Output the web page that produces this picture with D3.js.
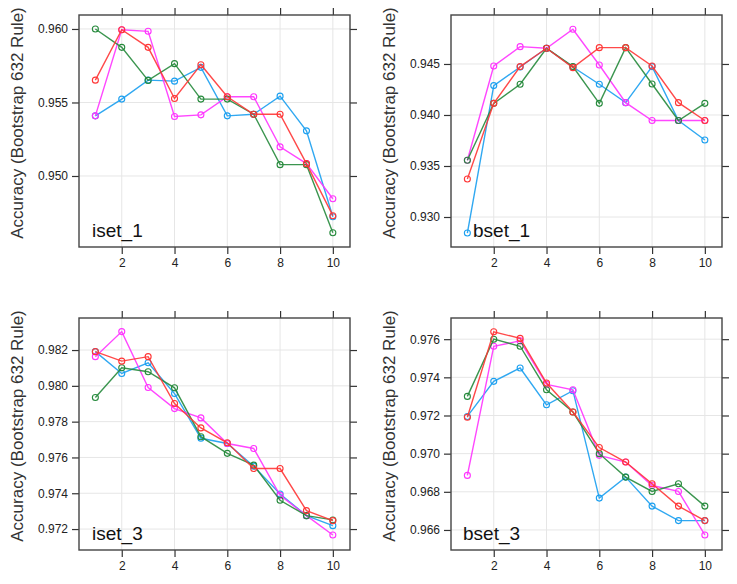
<!DOCTYPE html>
<html lang='en'>
  <head>
    <style type='text/css'>
      body {margin: 0; background-color: #fff;}
      svg text {font-family: 'Liberation Sans', Arial, sans-serif;}
    </style>
  </head>
  <body>
    <svg id='chart' width='737' height='584'></svg>
    <script src='https://d3js.org/d3.v7.min.js'></script>
    <script type='text/javascript'>
        // x values shared by every panel
        var xValues = [1, 2, 3, 4, 5, 6, 7, 8, 9, 10];
        var xTicks  = [2, 4, 6, 8, 10];

        // iset_1
        var iset1Blue    = [0.95409, 0.95523, 0.95652, 0.95645, 0.95739, 0.95409, 0.95420, 0.95543, 0.95307, 0.94723];
        var iset1Magenta = [0.95409, 0.95995, 0.95984, 0.95405, 0.95416, 0.95539, 0.95539, 0.95198, 0.95084, 0.94845];
        var iset1Green   = [0.96000, 0.95875, 0.95650, 0.95764, 0.95523, 0.95523, 0.95420, 0.95077, 0.95077, 0.94614];
        var iset1Red     = [0.95652, 0.95995, 0.95875, 0.95527, 0.95757, 0.95539, 0.95420, 0.95420, 0.95084, 0.94730];
        var iset1Ticks   = [0.950, 0.955, 0.960];

        // bset_1
        var bset1Blue    = [0.92843, 0.94288, 0.94470, 0.94654, 0.94470, 0.94301, 0.94121, 0.94474, 0.93946, 0.93755];
        var bset1Magenta = [0.93556, 0.94480, 0.94670, 0.94654, 0.94840, 0.94490, 0.94121, 0.93946, 0.93946, 0.93946];
        var bset1Green   = [0.93556, 0.94114, 0.94301, 0.94654, 0.94474, 0.94114, 0.94660, 0.94304, 0.93946, 0.94114];
        var bset1Red     = [0.93373, 0.94114, 0.94474, 0.94654, 0.94464, 0.94660, 0.94660, 0.94480, 0.94121, 0.93946];
        var bset1Ticks   = [0.930, 0.935, 0.940, 0.945];

        // iset_3
        var iset3Blue    = [0.98191, 0.98069, 0.98129, 0.97957, 0.97707, 0.97678, 0.97551, 0.97396, 0.97275, 0.97219];
        var iset3Magenta = [0.98163, 0.98303, 0.97991, 0.97873, 0.97821, 0.97678, 0.97650, 0.97388, 0.97275, 0.97167];
        var iset3Green   = [0.97935, 0.98101, 0.98079, 0.97989, 0.97716, 0.97623, 0.97557, 0.97361, 0.97275, 0.97251];
        var iset3Red     = [0.98191, 0.98138, 0.98163, 0.97901, 0.97765, 0.97682, 0.97538, 0.97538, 0.97303, 0.97247];
        var iset3Ticks   = [0.972, 0.974, 0.976, 0.978, 0.980, 0.982];

        // bset_3
        var bset3Blue    = [0.97195, 0.97379, 0.97449, 0.97256, 0.97330, 0.96767, 0.96877, 0.96725, 0.96649, 0.96649];
        var bset3Magenta = [0.96886, 0.97563, 0.97591, 0.97363, 0.97335, 0.96991, 0.96956, 0.96833, 0.96802, 0.96574];
        var bset3Green   = [0.97300, 0.97600, 0.97563, 0.97335, 0.97218, 0.97000, 0.96877, 0.96802, 0.96842, 0.96725];
        var bset3Red     = [0.97191, 0.97639, 0.97604, 0.97370, 0.97218, 0.97032, 0.96956, 0.96842, 0.96725, 0.96649];
        var bset3Ticks   = [0.966, 0.968, 0.970, 0.972, 0.974, 0.976];

        var seriesColors = ["#1a9ff0", "#ff33ff", "#268a3c", "#ff3535"];

        var panels = [
          {label: "iset_1", series: [iset1Blue, iset1Magenta, iset1Green, iset1Red], ticks: iset1Ticks,
           yDomain: [0.94517, 0.96095], left: 79,  top: 15,  labelX: 92},
          {label: "bset_1", series: [bset1Blue, bset1Magenta, bset1Green, bset1Red], ticks: bset1Ticks,
           yDomain: [0.92706, 0.94980], left: 451, top: 15,  labelX: 473},
          {label: "iset_3", series: [iset3Blue, iset3Magenta, iset3Green, iset3Red], ticks: iset3Ticks,
           yDomain: [0.97083, 0.98379], left: 79,  top: 318, labelX: 92},
          {label: "bset_3", series: [bset3Blue, bset3Magenta, bset3Green, bset3Red], ticks: bset3Ticks,
           yDomain: [0.96495, 0.97711], left: 451, top: 318, labelX: 463}
        ];

        var svg = d3.select("#chart");
        var boxW = 271, boxH = 232, tickLen = 7;

        panels.forEach(function(p) {
          var g = svg.append("g").attr("transform", "translate(" + p.left + "," + p.top + ")");
          var x = d3.scaleLinear().domain([0.38, 10.65]).range([0, boxW]);
          var y = d3.scaleLinear().domain(p.yDomain).range([boxH, 0]);

          // grid
          g.selectAll(".gx").data(xTicks).enter().append("line")
            .attr("x1", function(d){ return x(d); }).attr("x2", function(d){ return x(d); })
            .attr("y1", 0).attr("y2", boxH)
            .attr("stroke", "#e6e6e6").attr("stroke-width", 1);
          g.selectAll(".gy").data(p.ticks).enter().append("line")
            .attr("y1", function(d){ return y(d); }).attr("y2", function(d){ return y(d); })
            .attr("x1", 0).attr("x2", boxW)
            .attr("stroke", "#e6e6e6").attr("stroke-width", 1);

          // axes on all four sides
          var fmt = d3.format(".3f");
          var axB = g.append("g").attr("transform", "translate(0," + boxH + ")")
            .call(d3.axisBottom(x).tickValues(xTicks).tickSize(tickLen).tickPadding(4));
          var axT = g.append("g")
            .call(d3.axisTop(x).tickValues(xTicks).tickSize(tickLen).tickFormat(""));
          var axL = g.append("g")
            .call(d3.axisLeft(y).tickValues(p.ticks).tickSize(tickLen).tickPadding(4).tickFormat(fmt));
          var axR = g.append("g").attr("transform", "translate(" + boxW + ",0)")
            .call(d3.axisRight(y).tickValues(p.ticks).tickSize(tickLen).tickFormat(""));
          [axB, axT, axL, axR].forEach(function(a) {
            a.select(".domain").remove();
            a.selectAll(".tick line").attr("stroke", "#333").attr("stroke-width", 1.2);
            a.selectAll("text").attr("font-size", 12).attr("fill", "#222")
              .attr("font-family", "'Liberation Sans', Arial, sans-serif");
          });

          // series
          var line = d3.line()
            .x(function(d, i){ return x(xValues[i]); })
            .y(function(d){ return y(d); });
          p.series.forEach(function(vals, si) {
            g.append("path").datum(vals)
              .attr("d", line).attr("fill", "none")
              .attr("stroke", seriesColors[si]).attr("stroke-width", 1.4)
              .attr("stroke-opacity", 0.9);
            g.selectAll(".pt" + si).data(vals).enter().append("circle")
              .attr("cx", function(d, i){ return x(xValues[i]); })
              .attr("cy", function(d){ return y(d); })
              .attr("r", 3)
              .attr("fill", "none")
              .attr("stroke", seriesColors[si]).attr("stroke-width", 1.1);
          });

          // frame
          g.append("rect").attr("width", boxW).attr("height", boxH)
            .attr("fill", "none").attr("stroke", "#444").attr("stroke-width", 1.4);

          // y title
          g.append("text")
            .attr("transform", "translate(" + (-56) + "," + (boxH / 2 - 8) + ") rotate(-90)")
            .attr("text-anchor", "middle")
            .attr("font-size", 17).attr("fill", "#333")
            .text("Accuracy (Bootstrap 632 Rule)");

          // panel label
          g.append("text")
            .attr("x", p.labelX - p.left).attr("y", boxH - 10)
            .attr("font-family", "'Open Sans', sans-serif")
            .attr("font-size", 19).attr("fill", "#111")
            .text(p.label);
        });
    </script>
  </body>
</html>
